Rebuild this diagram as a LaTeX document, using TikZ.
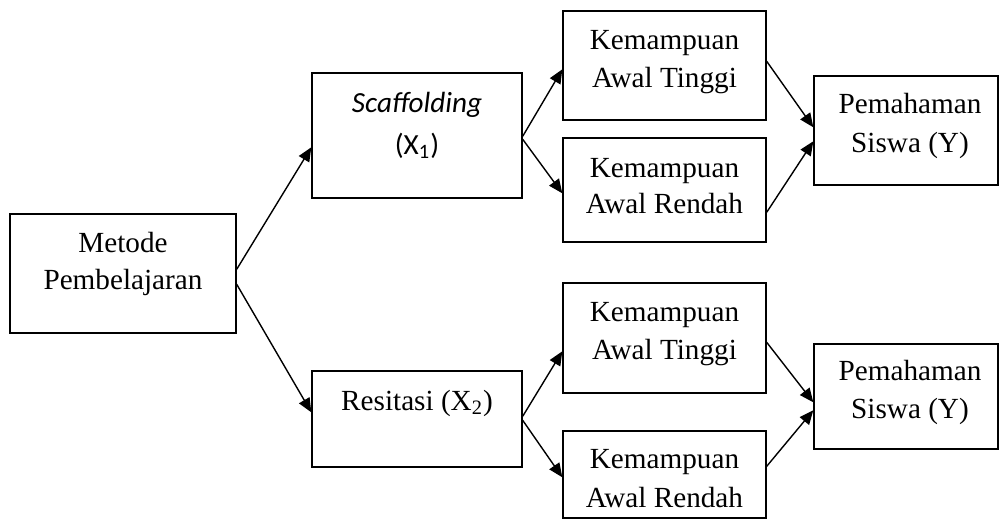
\documentclass[tikz,border=0pt]{standalone}
\usepackage{fontspec}
\setmainfont{Liberation Serif}
\newfontfamily\calfont{Carlito}
\usetikzlibrary{arrows.meta,calc,fit}
\begin{document}
\begin{tikzpicture}[x=0.5pt,y=-0.5pt,
  box/.style={draw,line width=0.7pt,inner sep=0pt,rectangle},
  txt/.style={anchor=base,inner sep=0pt,font=\fontsize{14.6}{18}\selectfont},
  conn/.style={line width=0.7pt,-{Triangle[length=7pt,width=6pt]}}]
\useasboundingbox (0,0) rectangle (1001,530);
% boxes
\node[box,fit={(10,214) (236,333)}] (met) {};
\node[box,fit={(312,73) (522,198)}] (sca) {};
\node[box,fit={(312,371) (522,467)}] (res) {};
\node[box,fit={(563,11) (766,120)}] (t1) {};
\node[box,fit={(563,138) (766,242)}] (r1) {};
\node[box,fit={(814,76) (998,185)}] (p1) {};
\node[box,fit={(563,283) (766,393)}] (t2) {};
\node[box,fit={(563,431) (766,518)}] (r2) {};
\node[box,fit={(814,344) (998,449)}] (p2) {};
% texts
\node[txt] (meta) at (123,252) {Metode};
\node[txt] (metb) at (123,289) {Pembelajaran};
\node[txt] (scaa) at (417,112) {\calfont\itshape Scaffolding};
\node[txt] (scab) at (417,154) {\calfont (X\textsubscript{1})};
\node[txt] (resa) at (417,410) {Resitasi (X\textsubscript{2})};
\node[txt] (t1a) at (664.5,49) {Kemampuan};
\node[txt] (t1b) at (664.5,87) {Awal Tinggi};
\node[txt] (r1a) at (664.5,177) {Kemampuan};
\node[txt] (r1b) at (664.5,213) {Awal Rendah};
\node[txt] (p1a) at (910,113) {Pemahaman};
\node[txt] (p1b) at (910,152) {Siswa (Y)};
\node[txt] (t2a) at (664.5,321) {Kemampuan};
\node[txt] (t2b) at (664.5,359) {Awal Tinggi};
\node[txt] (r2a) at (664.5,468) {Kemampuan};
\node[txt] (r2b) at (664.5,507) {Awal Rendah};
\node[txt] (p2a) at (910,380) {Pemahaman};
\node[txt] (p2b) at (910,418) {Siswa (Y)};
% connectors
\draw[conn] ($(met.north east)+(0,56)$) -- ($(sca.north west)+(0,75)$);
\draw[conn] ($(met.north east)+(0,71)$) -- ($(res.north west)+(0,42)$);
\draw[conn] ($(sca.north east)+(0,64)$) -- ($(t1.north west)+(0,59)$);
\draw[conn] ($(sca.north east)+(0,67)$) -- ($(r1.north west)+(0,56)$);
\draw[conn] ($(t1.north east)+(0,51)$) -- ($(p1.north west)+(0,52)$);
\draw[conn] ($(r1.north east)+(0,75)$) -- ($(p1.north west)+(0,66)$);
\draw[conn] ($(res.north east)+(0,46)$) -- ($(t2.north west)+(0,69)$);
\draw[conn] ($(res.north east)+(0,50)$) -- ($(r2.north west)+(0,47)$);
\draw[conn] ($(t2.north east)+(0,60)$) -- ($(p2.north west)+(0,59)$);
\draw[conn] ($(r2.north east)+(0,36)$) -- ($(p2.north west)+(0,67)$);
\end{tikzpicture}
\end{document}
